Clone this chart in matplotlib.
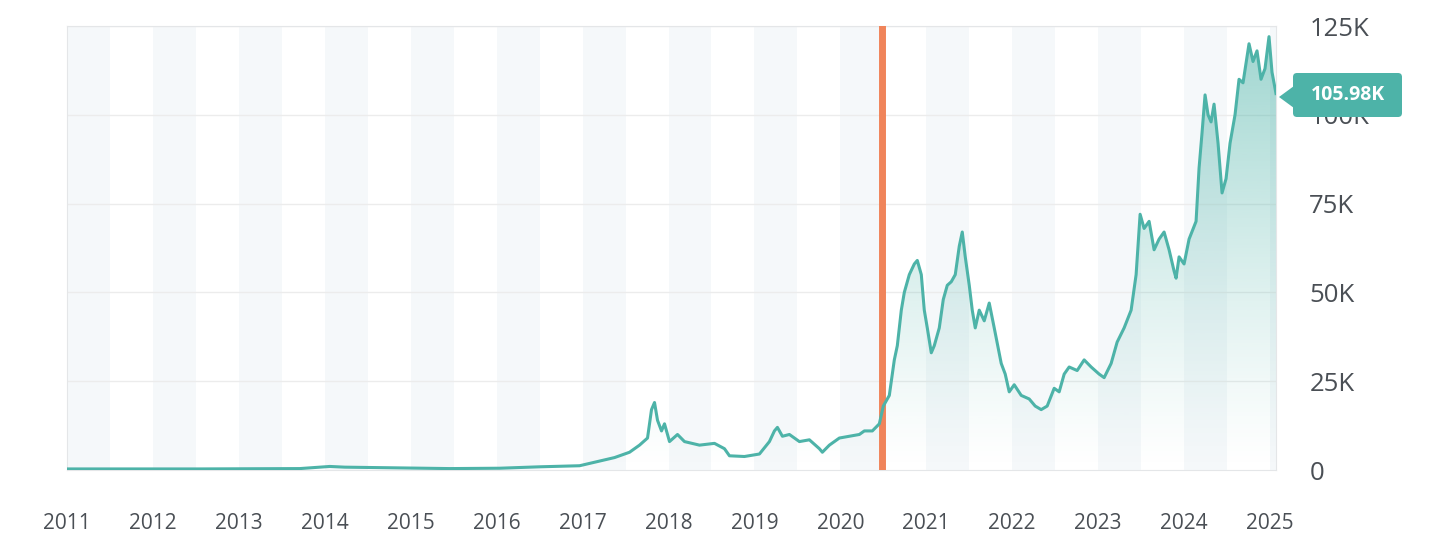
import numpy as np
import matplotlib.pyplot as plt
from matplotlib.patches import Polygon, FancyBboxPatch

plt.rcParams['font.family'] = ['Open Sans', 'DejaVu Sans']

# x position in pixels of the source chart, price in K USD
t_px = [67, 200, 300, 330, 345, 400, 450, 500, 540, 580, 600, 615, 630, 640, 648, 652, 655, 658,
        662, 665, 670, 678, 685, 700, 715, 725, 730, 745, 760, 770, 775, 778, 783, 790, 800, 810,
        820, 823, 830, 840, 850, 860, 865, 873, 880, 884, 890, 895, 898, 902, 905, 910, 915, 918,
        922, 925, 928, 932, 935, 940, 944, 948, 952, 956, 960, 963, 966, 970, 973, 976, 980, 985,
        990, 995, 1002, 1006, 1010, 1015, 1022, 1030, 1036, 1042, 1048, 1055, 1060, 1065, 1070,
        1078, 1085, 1092, 1100, 1105, 1112, 1118, 1125, 1132, 1137, 1141, 1145, 1150, 1155, 1160,
        1165, 1170, 1175, 1177, 1180, 1185, 1190, 1197, 1200, 1203, 1206, 1209, 1212, 1215, 1219,
        1223, 1227, 1231, 1236, 1240, 1244, 1250, 1254, 1258, 1262, 1266, 1270, 1273, 1277]
price = [0.3, 0.3, 0.4, 1.0, 0.8, 0.6, 0.4, 0.5, 0.9, 1.2, 2.5, 3.5, 5, 7, 9, 17, 19, 14,
         11, 13, 8, 10, 8, 7, 7.5, 6, 4, 3.8, 4.5, 8, 11, 12, 9.5, 10, 8, 8.5,
         6, 5, 7, 9, 9.5, 10, 11, 11, 13, 18, 21, 31, 35, 45, 50, 55, 58, 59,
         55, 45, 40, 33, 35, 40, 48, 52, 53, 55, 63, 67, 60, 52, 45, 40, 45, 42,
         47, 40, 30, 27, 22, 24, 21, 20, 18, 17, 18, 23, 22, 27, 29,
         28, 31, 29, 27, 26, 30, 36, 40, 45, 55, 72, 68, 70, 62, 65,
         67, 62, 56, 54, 60, 58, 65, 70, 85, 95, 105.6, 100, 98, 103, 92,
         78, 82, 92, 100, 110, 109, 120, 115, 118, 110, 113, 122, 112, 105.98]
years = np.arange(2011, 2026)
halving_px = 883
last_label = '105.98K'

px_per_year = 86.0
t = 2011 + (np.array(t_px) - 67) / px_per_year
halving = 2011 + (halving_px - 67) / px_per_year
p = np.array(price)

teal = '#4db3a8'
W, H = 1448, 554
fig = plt.figure(figsize=(W / 100, H / 100), dpi=100)
ax = fig.add_axes([67 / W, 1 - 470 / H, (1276 - 67) / W, 444 / H])
xmin, xmax = 2011, t[-1]
ax.set_xlim(xmin, xmax)
ax.set_ylim(0, 125)

for y in years:
    ax.axvspan(y, y + 0.5, color='#f5f8fa', zorder=0, lw=0)
for v in [25, 50, 75, 100, 125]:
    ax.axhline(v, color='#ececec', lw=1, zorder=1)

# gradient fill under the line
grad = np.linspace(0, 1, 256).reshape(-1, 1)
img = np.ones((256, 1, 4))
img[..., :3] = np.array([0x4d, 0xb3, 0xa8]) / 255
img[..., 3] = grad ** 1.2 * 0.55
im = ax.imshow(img, extent=[xmin, xmax, 0, 125], origin='lower', aspect='auto', zorder=2)
poly = Polygon(np.column_stack([np.r_[t[0], t, t[-1]], np.r_[0, p, 0]]),
               closed=True, transform=ax.transData)
im.set_clip_path(poly)

ax.plot(t, p, color=teal, lw=2.2, zorder=4)
ax.axvline(halving, color='#f0845a', lw=5, zorder=3)

for s in ['top', 'left', 'right', 'bottom']:
    ax.spines[s].set_color('#e4e6e8')
ax.yaxis.tick_right()
ax.set_yticks([0, 25, 50, 75, 100, 125])
ax.set_yticklabels(['0', '25K', '50K', '75K', '100K', '125K'])
ax.set_xticks(years)
ax.set_xticklabels([str(y) for y in years])
ax.tick_params(axis='y', length=0, pad=24, labelsize=18.5, labelcolor='#4a4f55')
ax.tick_params(axis='x', length=0, pad=31, labelsize=15, labelcolor='#4a4f55')

# value flag at the last point (pixel coordinates, y from bottom)
box = FancyBboxPatch((1293, H - 117), 109, 44, boxstyle='round,pad=0,rounding_size=4',
                     fc=teal, ec='none', transform=None, zorder=6)
tri = Polygon([[1279, H - 97], [1294, H - 86], [1294, H - 108]], closed=True,
              fc=teal, ec='none', transform=None, zorder=6)
fig.add_artist(box)
fig.add_artist(tri)
fig.text(1347.5 / W, 1 - 95 / H, last_label, fontsize=14, fontweight='bold', color='white',
         ha='center', va='center', zorder=7)

fig.savefig('out.png', dpi=100)
